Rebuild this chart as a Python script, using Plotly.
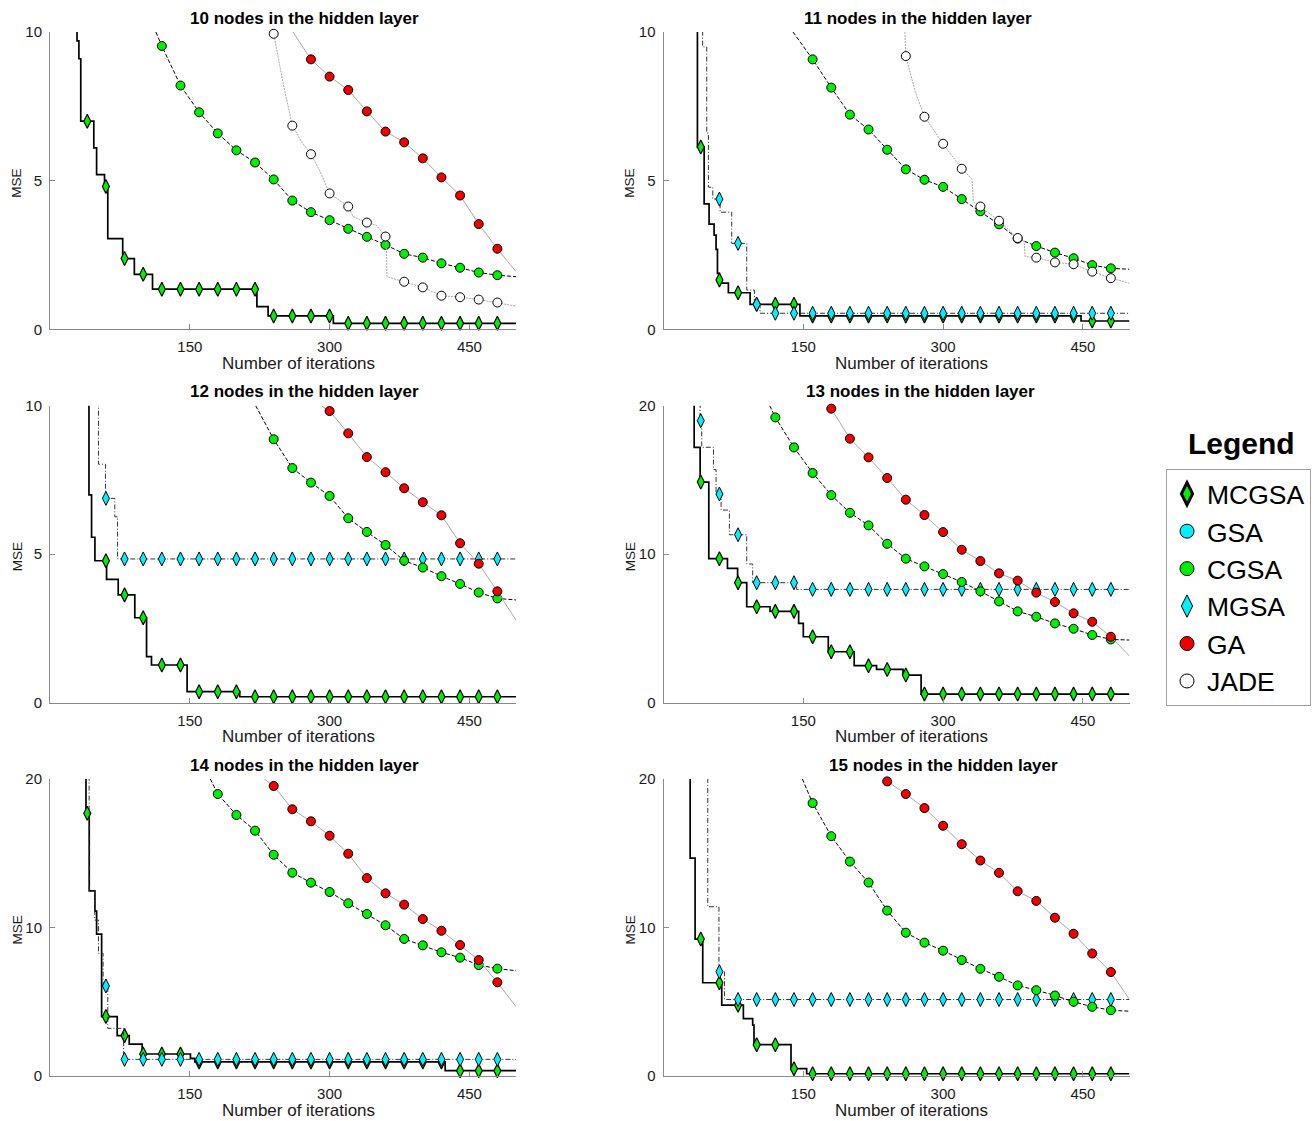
import plotly.graph_objects as go

W, H = 1316, 1121

# ---------------- data ----------------
# iterations at which the markers are drawn
MARK_X = [20, 40, 60, 80, 100, 120, 140, 160, 180, 200, 220, 240,
          260, 280, 300, 320, 340, 360, 380, 400, 420, 440, 460, 480]

METHODS = ["MCGSA", "GSA", "CGSA", "MGSA", "GA", "JADE"]
PANEL_TITLES = ["10 nodes in the hidden layer", "11 nodes in the hidden layer",
                "12 nodes in the hidden layer", "13 nodes in the hidden layer",
                "14 nodes in the hidden layer", "15 nodes in the hidden layer"]
Y_MAX = [10, 10, 10, 20, 20, 20]
X_TICKS = [150, 300, 450]

# ---- 10 nodes ----
P10_MCGSA_X = [25, 29, 31, 33, 47, 50, 58.5, 62, 78, 90.5, 110, 222, 234, 304, 500]
P10_MCGSA_Y = [11, 9.7, 9.1, 7.0, 6.1, 5.2, 4.8, 3.05, 2.38, 1.85, 1.35, 0.76, 0.45, 0.2, 0.2]
P10_MCGSA_M = [None, 7.0, 4.8, 2.38, 1.85, 1.35, 1.35, 1.35, 1.35, 1.35, 1.35, 0.45,
               0.45, 0.45, 0.45, 0.2, 0.2, 0.2, 0.2, 0.2, 0.2, 0.2, 0.2, 0.2]
P10_CGSA_M = [None, None, None, None, None, 9.53, 8.20, 7.30, 6.59, 6.02, 5.61, 5.04,
              4.33, 3.94, 3.67, 3.38, 3.11, 2.84, 2.54, 2.41, 2.22, 2.07, 1.91, 1.82]
P10_CGSA_LX = [113.6, 500]
P10_CGSA_LY = [10.0, 1.77]
P10_GA_M = [None] * 13 + [9.08, 8.5, 8.05, 7.33, 6.65, 6.29, 5.75, 5.11, 4.5, 3.54, 2.71]
P10_GA_LX = [260.7, 500]
P10_GA_LY = [10.0, 1.94]
P10_JADE_M = [None] * 11 + [9.94, 6.85, 5.89, 4.57, 4.13, 3.59, 3.12, 1.60, 1.41, 1.13,
                            1.08, 1.0, 0.9]
P10_JADE_LX = [238.5, 250, 270, 290, 325, 350, 361, 361.5, 500]
P10_JADE_LY = [10.3, 8.3, 6.3, 5.3, 3.8, 3.5, 2.85, 1.77, 0.78]

# ---- 11 nodes ----
P11_MCGSA_X = [30, 36.4, 43.6, 48.9, 54.3, 56.4, 57.9, 60, 69.6, 92.9, 146.4, 448, 500]
P11_MCGSA_Y = [12, 6.13, 4.22, 3.54, 3.17, 2.69, 1.88, 1.55, 1.23, 0.84, 0.45, 0.28, 0.28]
P11_MCGSA_M = [None, 6.13, 1.66, 1.23, 0.84, 0.84, 0.84] + [0.45] * 15 + [0.28, 0.28]
P11_MGSA_X = [40, 42, 46.4, 48.2, 52.9, 60.7, 73.2, 89.3, 97.5, 103.6, 500]
P11_MGSA_Y = [12, 9.5, 6.6, 4.78, 4.38, 3.94, 2.89, 1.32, 0.84, 0.54, 0.54]
P11_MGSA_M = [None, None, 4.38, 2.89, 0.84] + [0.54] * 19
P11_CGSA_M = [None] * 7 + [9.08, 8.13, 7.22, 6.72, 6.04, 5.38, 5.03, 4.79, 4.38, 3.97,
                           3.53, 3.05, 2.8, 2.58, 2.39, 2.16, 2.05]
P11_CGSA_LX = [139, 500]
P11_CGSA_LY = [10.0, 2.02]
P11_JADE_M = [None] * 12 + [9.19, 7.15, 6.24, 5.4, 4.13, 3.65, 3.07, 2.41, 2.25, 2.19,
                            1.94, 1.72]
P11_JADE_LX = [259, 270, 331, 332.5, 387, 388, 500]
P11_JADE_LY = [10.0, 8.0, 5.05, 4.3, 2.95, 2.45, 1.55]

# ---- 12 nodes ----
P12_MCGSA_X = [38, 41.8, 44.6, 48.2, 60.7, 73.2, 91, 103.6, 108.9, 147.1, 203.6, 500]
P12_MCGSA_Y = [12, 7.0, 5.57, 4.78, 4.15, 3.63, 2.86, 1.55, 1.27, 0.37, 0.2, 0.2]
P12_MCGSA_M = [None, None, 4.78, 3.63, 2.86, 1.27, 1.27, 0.37, 0.37, 0.37] + [0.2] * 14
P12_MGSA_X = [46, 52, 59.5, 69.5, 72.5, 500]
P12_MGSA_Y = [12, 8.03, 6.88, 6.26, 4.84, 4.84]
P12_MGSA_M = [None, None, 6.88] + [4.84] * 21
P12_CGSA_M = [None] * 11 + [8.87, 7.9, 7.41, 6.96, 6.21, 5.75, 5.31, 4.78, 4.55, 4.26,
                            4.0, 3.71, 3.51]
P12_CGSA_LX = [220.7, 500]
P12_CGSA_LY = [10.0, 3.46]
P12_GA_M = [None] * 14 + [9.82, 9.07, 8.27, 7.76, 7.22, 6.75, 6.31, 5.37, 4.68, 3.75]
P12_GA_LX = [291, 500]
P12_GA_LY = [10.0, 2.78]

# ---- 13 nodes ----
P13_MCGSA_X = [28, 32.9, 39.3, 48.6, 68.6, 79.5, 89.3, 114.3, 145, 150, 176.8, 204.6,
               228.6, 257, 276.4, 500]
P13_MCGSA_Y = [22, 17.2, 14.86, 9.7, 9.05, 8.08, 6.46, 6.15, 5.34, 4.44, 3.43, 2.49,
               2.24, 1.86, 0.58, 0.58]
P13_MCGSA_M = [None, 14.86, 9.7, 8.08, 6.46, 6.15, 6.15, 4.44, 3.43, 3.43, 2.49, 2.24,
               1.86] + [0.58] * 11
P13_MGSA_X = [36, 39.3, 41, 53.6, 56.4, 61.8, 70.7, 89.3, 95.7, 142.9, 500]
P13_MGSA_Y = [22, 18.99, 17.2, 15.7, 14.05, 12.97, 11.31, 9.34, 8.08, 7.63, 7.63]
P13_MGSA_M = [None, 18.99, 14.05, 11.31, 8.08, 8.08, 8.08] + [7.63] * 17
P13_CGSA_M = [None] * 5 + [19.21, 17.19, 15.47, 13.98, 12.79, 11.94, 10.70, 9.7, 9.18,
                           8.66, 8.13, 7.5, 6.82, 6.15, 5.79, 5.34, 4.98, 4.56, 4.26]
P13_CGSA_LX = [114, 500]
P13_CGSA_LY = [20.0, 4.22]
P13_GA_M = [None] * 8 + [19.8, 17.78, 16.52, 15.13, 13.67, 12.64, 11.49, 10.3, 9.54,
                         8.71, 8.22, 7.41, 6.78, 6.02, 5.45, 4.44]
P13_GA_LX = [178.6, 500]
P13_GA_LY = [20.0, 3.14]

# ---- 14 nodes ----
P14_MCGSA_X = [35, 38.6, 42.1, 48.2, 50, 55.4, 72.1, 85, 98.9, 150.7, 155.4, 424, 500]
P14_MCGSA_Y = [22, 17.69, 12.46, 11.1, 9.56, 4.0, 2.72, 2.15, 1.48, 1.19, 0.95, 0.36, 0.36]
P14_MCGSA_M = [None, 17.69, 4.0, 2.72, 1.48, 1.48, 1.48] + [0.95] * 14 + [0.36] * 3
P14_MGSA_X = [38, 42, 48, 52, 57, 62, 79, 500]
P14_MGSA_Y = [22, 12.5, 10.5, 8.26, 6.06, 3.21, 1.12, 1.12]
P14_MGSA_M = [None, None, 6.06] + [1.12] * 21
P14_CGSA_M = [None] * 8 + [18.99, 17.58, 16.52, 14.9, 13.69, 13.02, 12.39, 11.63, 10.91,
                           10.15, 9.23, 8.8, 8.33, 7.97, 7.47, 7.23]
P14_CGSA_LX = [172, 500]
P14_CGSA_LY = [20.0, 7.09]
P14_GA_M = [None] * 11 + [19.53, 17.96, 17.15, 16.18, 14.97, 13.33, 12.3, 11.54, 10.57,
                          9.78, 8.82, 7.81, 6.31]
P14_GA_LX = [230, 500]
P14_GA_LY = [20.0, 4.67]

# ---- 15 nodes ----
P15_MCGSA_X = [25, 28.6, 33.9, 42.1, 62.5, 85.7, 95.7, 97.1, 136.8, 153.6, 500]
P15_MCGSA_Y = [22, 14.67, 9.22, 6.28, 4.77, 3.87, 3.42, 2.11, 0.49, 0.15, 0.15]
P15_MCGSA_M = [None, 9.22, 6.28, 4.77, 2.11, 2.11, 0.49] + [0.15] * 17
P15_MGSA_X = [46, 47.5, 59.5, 65.4, 500]
P15_MGSA_Y = [22, 11.4, 7.02, 5.15, 5.15]
P15_MGSA_M = [None, None, 7.02] + [5.15] * 21
P15_CGSA_M = [None] * 7 + [18.38, 16.15, 14.44, 13.03, 11.14, 9.65, 8.98, 8.44, 7.81,
                           7.22, 6.68, 6.1, 5.78, 5.42, 5.0, 4.66, 4.43]
P15_CGSA_LX = [149, 500]
P15_CGSA_LY = [20.0, 4.36]
P15_GA_M = [None] * 11 + [19.84, 18.99, 18.04, 16.85, 15.61, 14.51, 13.68, 12.44, 11.79,
                          10.66, 9.58, 8.25, 7.0]
P15_GA_LX = [237.5, 500]
P15_GA_LY = [20.0, 5.15]

# step series: (x, y, markers);  smooth series: (markers, extra line x, extra line y)
PANELS = [
    {"MCGSA": (P10_MCGSA_X, P10_MCGSA_Y, P10_MCGSA_M),
     "CGSA": (P10_CGSA_M, P10_CGSA_LX, P10_CGSA_LY),
     "GA": (P10_GA_M, P10_GA_LX, P10_GA_LY),
     "JADE": (P10_JADE_M, P10_JADE_LX, P10_JADE_LY)},
    {"MCGSA": (P11_MCGSA_X, P11_MCGSA_Y, P11_MCGSA_M),
     "MGSA": (P11_MGSA_X, P11_MGSA_Y, P11_MGSA_M),
     "CGSA": (P11_CGSA_M, P11_CGSA_LX, P11_CGSA_LY),
     "JADE": (P11_JADE_M, P11_JADE_LX, P11_JADE_LY)},
    {"MCGSA": (P12_MCGSA_X, P12_MCGSA_Y, P12_MCGSA_M),
     "MGSA": (P12_MGSA_X, P12_MGSA_Y, P12_MGSA_M),
     "CGSA": (P12_CGSA_M, P12_CGSA_LX, P12_CGSA_LY),
     "GA": (P12_GA_M, P12_GA_LX, P12_GA_LY)},
    {"MCGSA": (P13_MCGSA_X, P13_MCGSA_Y, P13_MCGSA_M),
     "MGSA": (P13_MGSA_X, P13_MGSA_Y, P13_MGSA_M),
     "CGSA": (P13_CGSA_M, P13_CGSA_LX, P13_CGSA_LY),
     "GA": (P13_GA_M, P13_GA_LX, P13_GA_LY)},
    {"MCGSA": (P14_MCGSA_X, P14_MCGSA_Y, P14_MCGSA_M),
     "MGSA": (P14_MGSA_X, P14_MGSA_Y, P14_MGSA_M),
     "CGSA": (P14_CGSA_M, P14_CGSA_LX, P14_CGSA_LY),
     "GA": (P14_GA_M, P14_GA_LX, P14_GA_LY)},
    {"MCGSA": (P15_MCGSA_X, P15_MCGSA_Y, P15_MCGSA_M),
     "MGSA": (P15_MGSA_X, P15_MGSA_Y, P15_MGSA_M),
     "CGSA": (P15_CGSA_M, P15_CGSA_LX, P15_CGSA_LY),
     "GA": (P15_GA_M, P15_GA_LX, P15_GA_LY)},
]

# ---------------- styles ----------------
GREEN, CYAN, RED = "#00EE00", "#00EEFF", "#EE0000"
STYLE = {
    "MCGSA": dict(lc="#000000", lw=1.7, dash="solid", shape="hv",
                  sym="diamond-tall", mc=GREEN, ms=10, mlw=1.2),
    "GSA": dict(lc="#000000", lw=1, dash="solid", shape="linear",
                sym="circle", mc=CYAN, ms=9, mlw=1),
    "CGSA": dict(lc="#000000", lw=1, dash="4px,2px", shape="linear",
                 sym="circle", mc=GREEN, ms=9, mlw=1),
    "MGSA": dict(lc="#333333", lw=1, dash="5px,2px,1px,2px", shape="hv",
                 sym="diamond-tall", mc=CYAN, ms=10, mlw=1),
    "GA": dict(lc="#A8A8A8", lw=1, dash="solid", shape="linear",
               sym="circle", mc=RED, ms=9, mlw=1),
    "JADE": dict(lc="#A8A8A8", lw=1, dash="2px,1px", shape="linear",
                 sym="circle", mc="#FFFFFF", ms=9, mlw=1),
}
STEP_METHODS = {"MCGSA", "MGSA"}
DRAW_ORDER = ["MCGSA", "MGSA", "CGSA", "GA", "JADE"]

# pixel geometry of the panels
COL_X = [(50, 516), (663.5, 1129.5)]
ROW_Y = [(32, 329.3), (405.7, 702.7), (779, 1076)]
TITLE_X = [304.5, 918, 304.5, 920, 304.5, 943.5]
TITLE_Y = [18.5, 18.5, 391.5, 391.5, 765, 765]
XLAB_X = [298, 911, 298, 911, 298, 911]
XLAB_Y = [363, 363, 736, 736, 1110, 1110]
YLAB_X = [17, 630, 17, 630, 17, 630]

FONT = "Liberation Sans, Arial, Helvetica, sans-serif"
AXIS_GRAY = "#8a8a8a"


def fx(p):
    return p / W


def fy(p):
    return 1 - p / H


fig = go.Figure()
layout_axes = {}
annotations = []

for i, panel in enumerate(PANELS):
    n = i + 1
    xa = "x" if n == 1 else f"x{n}"
    ya = "y" if n == 1 else f"y{n}"
    row, col = divmod(i, 2)
    for m in DRAW_ORDER:
        if m not in panel:
            continue
        st = STYLE[m]
        a, b, c = panel[m]
        if m in STEP_METHODS:
            lx, ly, my = a, b, c
        else:
            my = a
            pts = [(x, y) for x, y in zip(MARK_X, my) if y is not None]
            pts += list(zip(b, c))
            pts.sort(key=lambda t: t[0])
            lx = [p[0] for p in pts]
            ly = [p[1] for p in pts]
        fig.add_trace(go.Scatter(
            x=lx, y=ly, mode="lines", xaxis=xa, yaxis=ya, showlegend=False,
            hoverinfo="skip",
            line=dict(color=st["lc"], width=st["lw"], dash=st["dash"], shape=st["shape"])))
        mx = [x for x, y in zip(MARK_X, my) if y is not None]
        mv = [y for y in my if y is not None]
        fig.add_trace(go.Scatter(
            x=mx, y=mv, mode="markers", xaxis=xa, yaxis=ya, showlegend=False,
            cliponaxis=False, name=m,
            marker=dict(symbol=st["sym"], size=st["ms"], color=st["mc"],
                        line=dict(color="#000000", width=st["mlw"]))))

    x0, x1 = COL_X[col]
    y0, y1 = ROW_Y[row]
    ymax = Y_MAX[i]
    common = dict(showline=True, linecolor=AXIS_GRAY, linewidth=1, ticks="inside",
                  ticklen=5, tickcolor=AXIS_GRAY, tickwidth=1, showgrid=False,
                  zeroline=False, tickfont=dict(family=FONT, size=15, color="#1a1a1a"))
    layout_axes["xaxis" if n == 1 else f"xaxis{n}"] = dict(
        domain=[fx(x0), fx(x1)], range=[0, 500], tickvals=X_TICKS,
        anchor=ya, ticklabelstandoff=4, **common)
    layout_axes["yaxis" if n == 1 else f"yaxis{n}"] = dict(
        domain=[fy(y1), fy(y0)], range=[0, ymax], tickvals=[0, ymax / 2, ymax],
        anchor=xa, ticklabelstandoff=4, **common)

    annotations.append(dict(text=f"<b>{PANEL_TITLES[i]}</b>", x=fx(TITLE_X[i]),
                            y=fy(TITLE_Y[i]), xref="paper", yref="paper",
                            showarrow=False, xanchor="center", yanchor="middle",
                            font=dict(family=FONT, size=17, color="#000000")))
    annotations.append(dict(text="Number of iterations", x=fx(XLAB_X[i]),
                            y=fy(XLAB_Y[i]), xref="paper", yref="paper",
                            showarrow=False, xanchor="center", yanchor="middle",
                            font=dict(family=FONT, size=17, color="#1a1a1a")))
    annotations.append(dict(text="MSE", x=fx(YLAB_X[i]), y=fy((y0 + y1) / 2 + 3),
                            xref="paper", yref="paper", textangle=-90,
                            showarrow=False, xanchor="center", yanchor="middle",
                            font=dict(family=FONT, size=13.5, color="#1a1a1a")))

# legend entries (one per method)
LEG_MS = {"MCGSA": 16, "GSA": 14, "CGSA": 14, "MGSA": 16, "GA": 14, "JADE": 14}
for m in METHODS:
    st = STYLE[m]
    fig.add_trace(go.Scatter(
        x=[None], y=[None], mode="markers", name=m, showlegend=True,
        marker=dict(symbol=st["sym"], size=LEG_MS[m], color=st["mc"],
                    line=dict(color="#000000", width=3 if m == "MCGSA" else 1))))

annotations.append(dict(text="<b>Legend</b>", x=fx(1241), y=fy(443), xref="paper",
                        yref="paper", showarrow=False, xanchor="center",
                        yanchor="middle",
                        font=dict(family=FONT, size=30, color="#000000")))

fig.update_layout(
    width=W, height=H,
    margin=dict(l=0, r=0, t=0, b=0, autoexpand=False),
    paper_bgcolor="white", plot_bgcolor="white",
    annotations=annotations,
    legend=dict(x=fx(1166), y=fy(469), xanchor="left", yanchor="top",
                bordercolor="#a0a0a0", borderwidth=1, bgcolor="white",
                font=dict(family=FONT, size=26.5, color="#000000"),
                tracegroupgap=0, itemsizing="trace"),
    font=dict(family=FONT),
    **layout_axes,
)

fig.write_html("out.html")
